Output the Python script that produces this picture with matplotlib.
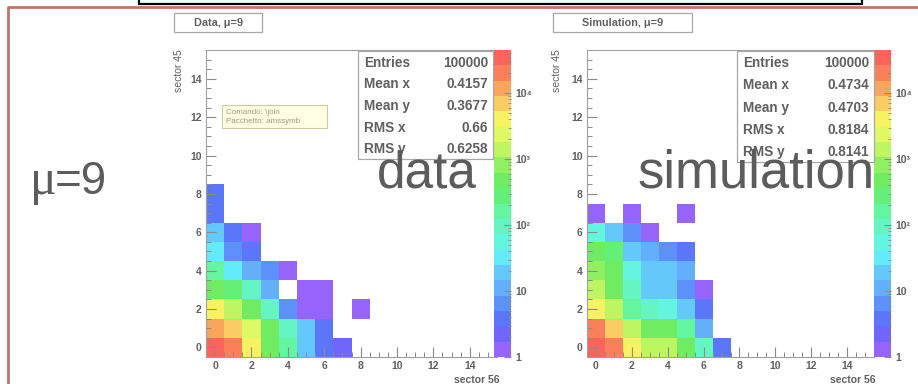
import numpy as np
import matplotlib
matplotlib.use("Agg")
import matplotlib.pyplot as plt
from matplotlib.colors import ListedColormap, LogNorm
from matplotlib.patches import Rectangle
from matplotlib.lines import Line2D
from matplotlib.ticker import LogLocator, NullFormatter, MultipleLocator

plt.rcParams['font.family'] = ['Liberation Sans', 'DejaVu Sans']

W, H = 918, 384

# bin contents, rows are sector 45 = 0..8, columns sector 56 = 0..8
data_counts = [
    [35000, 20000, 4000, 450, 200, 20, 4, 2, 0],
    [12000, 7000, 2000, 500, 100, 20, 4, 0, 0],
    [4500, 1500, 450, 100, 7, 1, 1, 0, 1],
    [500, 250, 90, 11, 0, 1, 1, 0, 0],
    [150, 25, 12, 5, 1, 0, 0, 0, 0],
    [30, 6, 3, 0, 0, 0, 0, 0, 0],
    [15, 4, 1, 0, 0, 0, 0, 0, 0],
    [4, 0, 0, 0, 0, 0, 0, 0, 0],
    [3, 0, 0, 0, 0, 0, 0, 0, 0],
]
sim_counts = [
    [35000, 18000, 4000, 1500, 1400, 500, 90, 3, 0],
    [18000, 7000, 1600, 550, 500, 200, 12, 0, 0],
    [3500, 1300, 180, 100, 55, 20, 4, 0, 0],
    [1200, 450, 90, 18, 18, 6, 1, 0, 0],
    [1000, 450, 50, 17, 15, 14, 0, 0, 0],
    [400, 220, 20, 11, 6, 4, 0, 0, 0],
    [50, 17, 6, 1, 0, 0, 0, 0, 0],
    [1, 0, 1, 0, 0, 1, 0, 0, 0],
    [0, 0, 0, 0, 0, 0, 0, 0, 0],
]

stat_names = ["Entries", "Mean x", "Mean y", "RMS x", "RMS y"]
data_stats = ["100000", "0.4157", "0.3677", "0.66", "0.6258"]
sim_stats = ["100000", "0.4734", "0.4703", "0.8184", "0.8141"]

panel_titles = ["Data, \u03bc=9", "Simulation, \u03bc=9"]
big_labels = ["data", "simulation"]

# 20-step palette, bottom to top
palette = [
    (150, 100, 250), (112, 102, 250), (92, 118, 250), (92, 145, 250),
    (100, 175, 250), (100, 200, 250), (100, 235, 250), (100, 245, 225),
    (100, 245, 195), (100, 245, 160), (100, 240, 120), (112, 236, 98),
    (145, 240, 98), (190, 246, 98), (222, 250, 98), (246, 242, 98),
    (250, 205, 100), (250, 165, 92), (250, 128, 92), (250, 100, 90),
]
cmap = ListedColormap([(r / 255, g / 255, b / 255) for r, g, b in palette])
norm = LogNorm(vmin=1, vmax=4.5e4)

grey = '#606060'
fig = plt.figure(figsize=(W / 100, H / 100), dpi=100)


def rect(x0, y0, x1, y1):
    return [x0 / W, 1 - y1 / H, (x1 - x0) / W, (y1 - y0) / H]


def fx(x):
    return x / W


def fy(y):
    return 1 - y / H


# slide frame and the box above it
fig.add_artist(Line2D([fx(8), fx(8), fx(918)], [fy(384), fy(6.5), fy(6.5)],
                      color='#c47464', lw=2))
fig.add_artist(Rectangle((fx(139), fy(4)), fx(862) - fx(139), fy(-10) - fy(4),
                         facecolor='white', edgecolor='black', lw=1.6,
                         transform=fig.transFigure))


def draw_panel(counts, stats, ax_px, cb_px, title_px, title, stats_px, ylab_x):
    ax = fig.add_axes(rect(*ax_px))
    z = np.ma.masked_equal(np.array(counts, dtype=float), 0)
    xe = np.arange(z.shape[1] + 1) - 0.5
    ye = np.arange(z.shape[0] + 1) - 0.5
    mesh = ax.pcolormesh(xe, ye, z, cmap=cmap, norm=norm)
    ax.set_xlim(-0.5, 15.5)
    ax.set_ylim(-0.5, 15.5)
    ax.xaxis.set_major_locator(MultipleLocator(2))
    ax.yaxis.set_major_locator(MultipleLocator(2))
    ax.xaxis.set_minor_locator(MultipleLocator(0.5))
    ax.yaxis.set_minor_locator(MultipleLocator(0.5))
    ax.tick_params(which='both', direction='in', colors='#8a8a8a',
                   labelcolor=grey, labelsize=7.5, pad=3)
    ax.tick_params(which='major', length=7, width=0.8)
    ax.tick_params(which='minor', length=3.5, width=0.7)
    for lab in ax.get_xticklabels() + ax.get_yticklabels():
        lab.set_fontweight('bold')
    for sp in ax.spines.values():
        sp.set_color('#a0a0a0')
        sp.set_linewidth(0.8)
    ax.spines['right'].set_visible(False)

    cax = fig.add_axes(rect(*cb_px))
    cb = fig.colorbar(mesh, cax=cax)
    cb.outline.set_visible(False)
    cax.yaxis.set_major_locator(LogLocator(base=10, numticks=10))
    cax.yaxis.set_minor_locator(LogLocator(base=10, subs=np.arange(2, 10), numticks=10))
    cax.yaxis.set_minor_formatter(NullFormatter())
    cb.set_ticks([1, 10, 100, 1000, 10000],
                 labels=["1", "10", "10\u00b2", "10\u00b3", "10\u2074"])
    cax.tick_params(which='both', direction='in', colors='#8a8a8a',
                    labelcolor=grey, labelsize=7.5, pad=3)
    cax.tick_params(which='major', length=5)
    cax.tick_params(which='minor', length=2.5)
    for lab in cax.get_yticklabels():
        lab.set_fontweight('bold')

    # axis titles
    fig.text(fx(ylab_x), fy(ax_px[1] - 1), "sector 45", rotation=90,
             ha='center', va='top', fontsize=7.5, color=grey)
    fig.text(fx(ax_px[2] + 2), fy(375), "sector 56", ha='right', va='top',
             fontsize=7.5, color=grey, fontweight='bold')

    # title box
    tx0, ty0, tx1, ty1 = title_px
    fig.add_artist(Rectangle((fx(tx0), fy(ty1)), fx(tx1) - fx(tx0), fy(ty0) - fy(ty1),
                             facecolor='white', edgecolor='#a8a8a8', lw=0.9,
                             transform=fig.transFigure))
    fig.text(fx((tx0 + tx1) / 2), fy((ty0 + ty1) / 2), title, ha='center',
             va='center', fontsize=7.8, fontweight='bold', color=grey)

    # statistics box
    sx0, sy0, sx1, sy1 = stats_px
    fig.add_artist(Rectangle((fx(sx0), fy(sy1)), fx(sx1) - fx(sx0), fy(sy0) - fy(sy1),
                             facecolor='white', edgecolor='#a8a8a8', lw=0.9,
                             transform=fig.transFigure, zorder=3))
    step = (sy1 - sy0) / len(stat_names)
    for i, (name, val) in enumerate(zip(stat_names, stats)):
        yy = sy0 + step * (i + 0.55)
        fig.text(fx(sx0 + 6), fy(yy), name, ha='left', va='center', fontsize=9.8,
                 fontweight='bold', color=grey, zorder=4)
        fig.text(fx(sx1 - 5), fy(yy), val, ha='right', va='center', fontsize=9.8,
                 fontweight='bold', color=grey, zorder=4)
    return ax


draw_panel(data_counts, data_stats, (206, 50, 497, 357), (494, 50, 511, 357),
           (174, 13, 262, 32), panel_titles[0], (358, 51, 493, 159), 179)
draw_panel(sim_counts, sim_stats, (587, 50, 874, 357), (874, 50, 891, 357),
           (553, 13, 692, 32), panel_titles[1], (737, 51, 874, 162), 557)

# hover tooltip left on the data panel
fig.add_artist(Rectangle((fx(222), fy(128)), fx(327) - fx(222), fy(105) - fy(128),
                         facecolor='#ffffe4', edgecolor='#cfc9a0', lw=0.8,
                         transform=fig.transFigure, zorder=5))
fig.text(fx(226), fy(112), "Comando: \\join", fontsize=5.8, color='#a09a80',
         va='center', zorder=6)
fig.text(fx(226), fy(121.5), "Pacchetto: amssymb", fontsize=5.8, color='#a09a80',
         va='center', zorder=6)

# large slide labels
big = dict(color='#5c5c5c', va='baseline', zorder=8)
fig.text(fx(30), fy(194), "\u03bc", family=['Liberation Serif', 'DejaVu Serif'],
         ha='left', fontsize=36, **big)
fig.text(fx(55), fy(194), "=9", ha='left', fontsize=33, **big)
fig.text(fx(377), fy(187), big_labels[0], ha='left', fontsize=37, **big)
fig.text(fx(637), fy(188), big_labels[1], ha='left', fontsize=38, **big)

fig.savefig("out.png", dpi=100)
